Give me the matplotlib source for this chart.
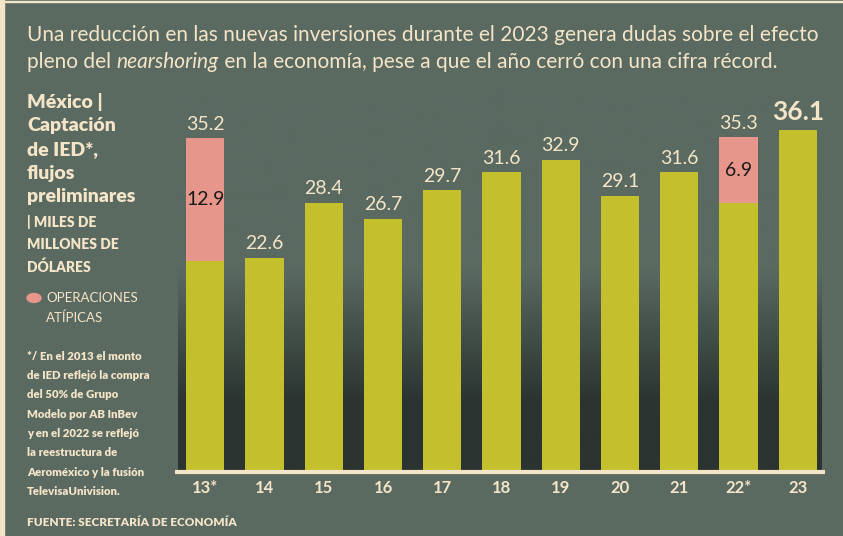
import numpy as np
import matplotlib.pyplot as plt
from matplotlib.colors import LinearSegmentedColormap
from matplotlib.patches import Rectangle, Circle

# datos
years = ['13*', '14', '15', '16', '17', '18', '19', '20', '21', '22*', '23']
totals = [35.2, 22.6, 28.4, 26.7, 29.7, 31.6, 32.9, 29.1, 31.6, 35.3, 36.1]
atypical = [12.9, 0, 0, 0, 0, 0, 0, 0, 0, 6.9, 0]
base = [t - a for t, a in zip(totals, atypical)]

BG = '#5a6a61'
DARK = '#2b3431'
CREAM = '#f5e5c8'
OLIVE = '#c4c02d'
PINK = '#e6968a'

W, H = 843, 536
fig = plt.figure(figsize=(W / 100, H / 100), dpi=100, facecolor=BG)


def fx(x):
    return x / W


def fy(y):
    return 1 - y / H


# marco crema
fig.patches.append(Rectangle((0, 0), fx(4), 1, transform=fig.transFigure, color=CREAM, zorder=0))
fig.patches.append(Rectangle((0, fy(2)), 1, fx(2), transform=fig.transFigure, color=CREAM, zorder=0))

ax = fig.add_axes([fx(178), 64 / H, 644 / W, 382 / H])
ax.set_facecolor(BG)
x = np.arange(len(years))
ax.set_xlim(-0.46, 10.41)
ax.set_ylim(0, 40.3)

# degradado de fondo
cmap = LinearSegmentedColormap.from_list('g', [DARK, BG], N=256)
grad = np.linspace(0, 40.3, 300).reshape(-1, 1)
grad = np.clip((grad - 7.5) / 14.0, 0, 1)
ax.imshow(grad, extent=(-0.46, 10.41, 0, 40.3), origin='lower', aspect='auto',
          cmap=cmap, vmin=0, vmax=1, zorder=0)

bw = 0.645
ax.bar(x, base, width=bw, color=OLIVE, zorder=2)
ax.bar(x, atypical, bottom=base, width=bw, color=PINK, zorder=2)

for i, t in enumerate(totals):
    if i == len(totals) - 1:
        ax.text(i, t + 0.6, f'{t}', ha='center', va='bottom', color=CREAM,
                fontsize=19, fontweight='bold', family='Lato', zorder=3)
    else:
        ax.text(i, t + 0.6, f'{t}', ha='center', va='bottom', color=CREAM,
                fontsize=14, family='Lato', zorder=3)
    if atypical[i] > 0:
        ax.text(i, base[i] + atypical[i] / 2, f'{atypical[i]}', ha='center', va='center',
                color='#1a1a1a', fontsize=14, family='Lato', zorder=3)

ax.plot([-0.005, 1.005], [0, 0], transform=ax.transAxes, color=CREAM, lw=3,
        clip_on=False, zorder=4, solid_capstyle='butt')

ax.set_xticks(x)
ax.set_xticklabels(years, color=CREAM, fontsize=12, fontweight='bold', family='Lato')
ax.tick_params(axis='x', length=0, pad=6)
ax.set_yticks([])
for s in ax.spines.values():
    s.set_visible(False)

# titulo
t1 = fig.text(fx(27), fy(35), 'Una reducción en las nuevas inversiones durante el 2023 genera dudas sobre el efecto',
              color=CREAM, fontsize=15, family='Lato', va='center', ha='left')
t2 = fig.text(fx(27), fy(62), 'pleno del ', color=CREAM, fontsize=15, family='Lato', va='center', ha='left')
t3 = ax.annotate('nearshoring', xy=(1, 0), xycoords=t2, va='bottom', ha='left',
                 color=CREAM, fontsize=15, family='Lato', style='italic', annotation_clip=False)
ax.annotate(' en la economía, pese a que el año cerró con una cifra récord.', xy=(1, 0), xycoords=t3,
            va='bottom', ha='left', color=CREAM, fontsize=15, family='Lato', annotation_clip=False)

# panel izquierdo
big = ['México |', 'Captación', 'de IED*,', 'flujos', 'preliminares']
for k, s in enumerate(big):
    fig.text(fx(27), fy(102 + 23.7 * k), s, color=CREAM, fontsize=14, fontweight='heavy',
             family='Lato', va='center', ha='left')
small = ['| MILES DE', 'MILLONES DE', 'DÓLARES']
for k, s in enumerate(small):
    fig.text(fx(27), fy(222 + 22.5 * k), s, color=CREAM, fontsize=10, fontweight='heavy',
             family='Lato', va='center', ha='left')

fig.patches.append(Circle((fx(34), fy(298)), 7 / W, transform=fig.transFigure, color=PINK))
fig.text(fx(46), fy(298), 'OPERACIONES', color=CREAM, fontsize=9.5, family='Lato', va='center', ha='left')
fig.text(fx(46), fy(318), 'ATÍPICAS', color=CREAM, fontsize=9.5, family='Lato', va='center', ha='left')

notes = ['*/ En el 2013 el monto', 'de IED reflejó la compra', 'del 50% de Grupo',
         'Modelo por AB InBev', 'y en el 2022 se reflejó', 'la reestructura de',
         'Aeroméxico y la fusión', 'TelevisaUnivision.']
for k, s in enumerate(notes):
    fig.text(fx(27), fy(356 + 19.4 * k), s, color=CREAM, fontsize=8.2, fontweight='heavy',
             family='Lato', va='center', ha='left')

fig.text(fx(27), fy(523), 'FUENTE: SECRETARÍA DE ECONOMÍA', color=CREAM, fontsize=8.5,
         fontweight='heavy', family='Lato', va='center', ha='left')

fig.savefig('out.png', dpi=100, facecolor=BG)
